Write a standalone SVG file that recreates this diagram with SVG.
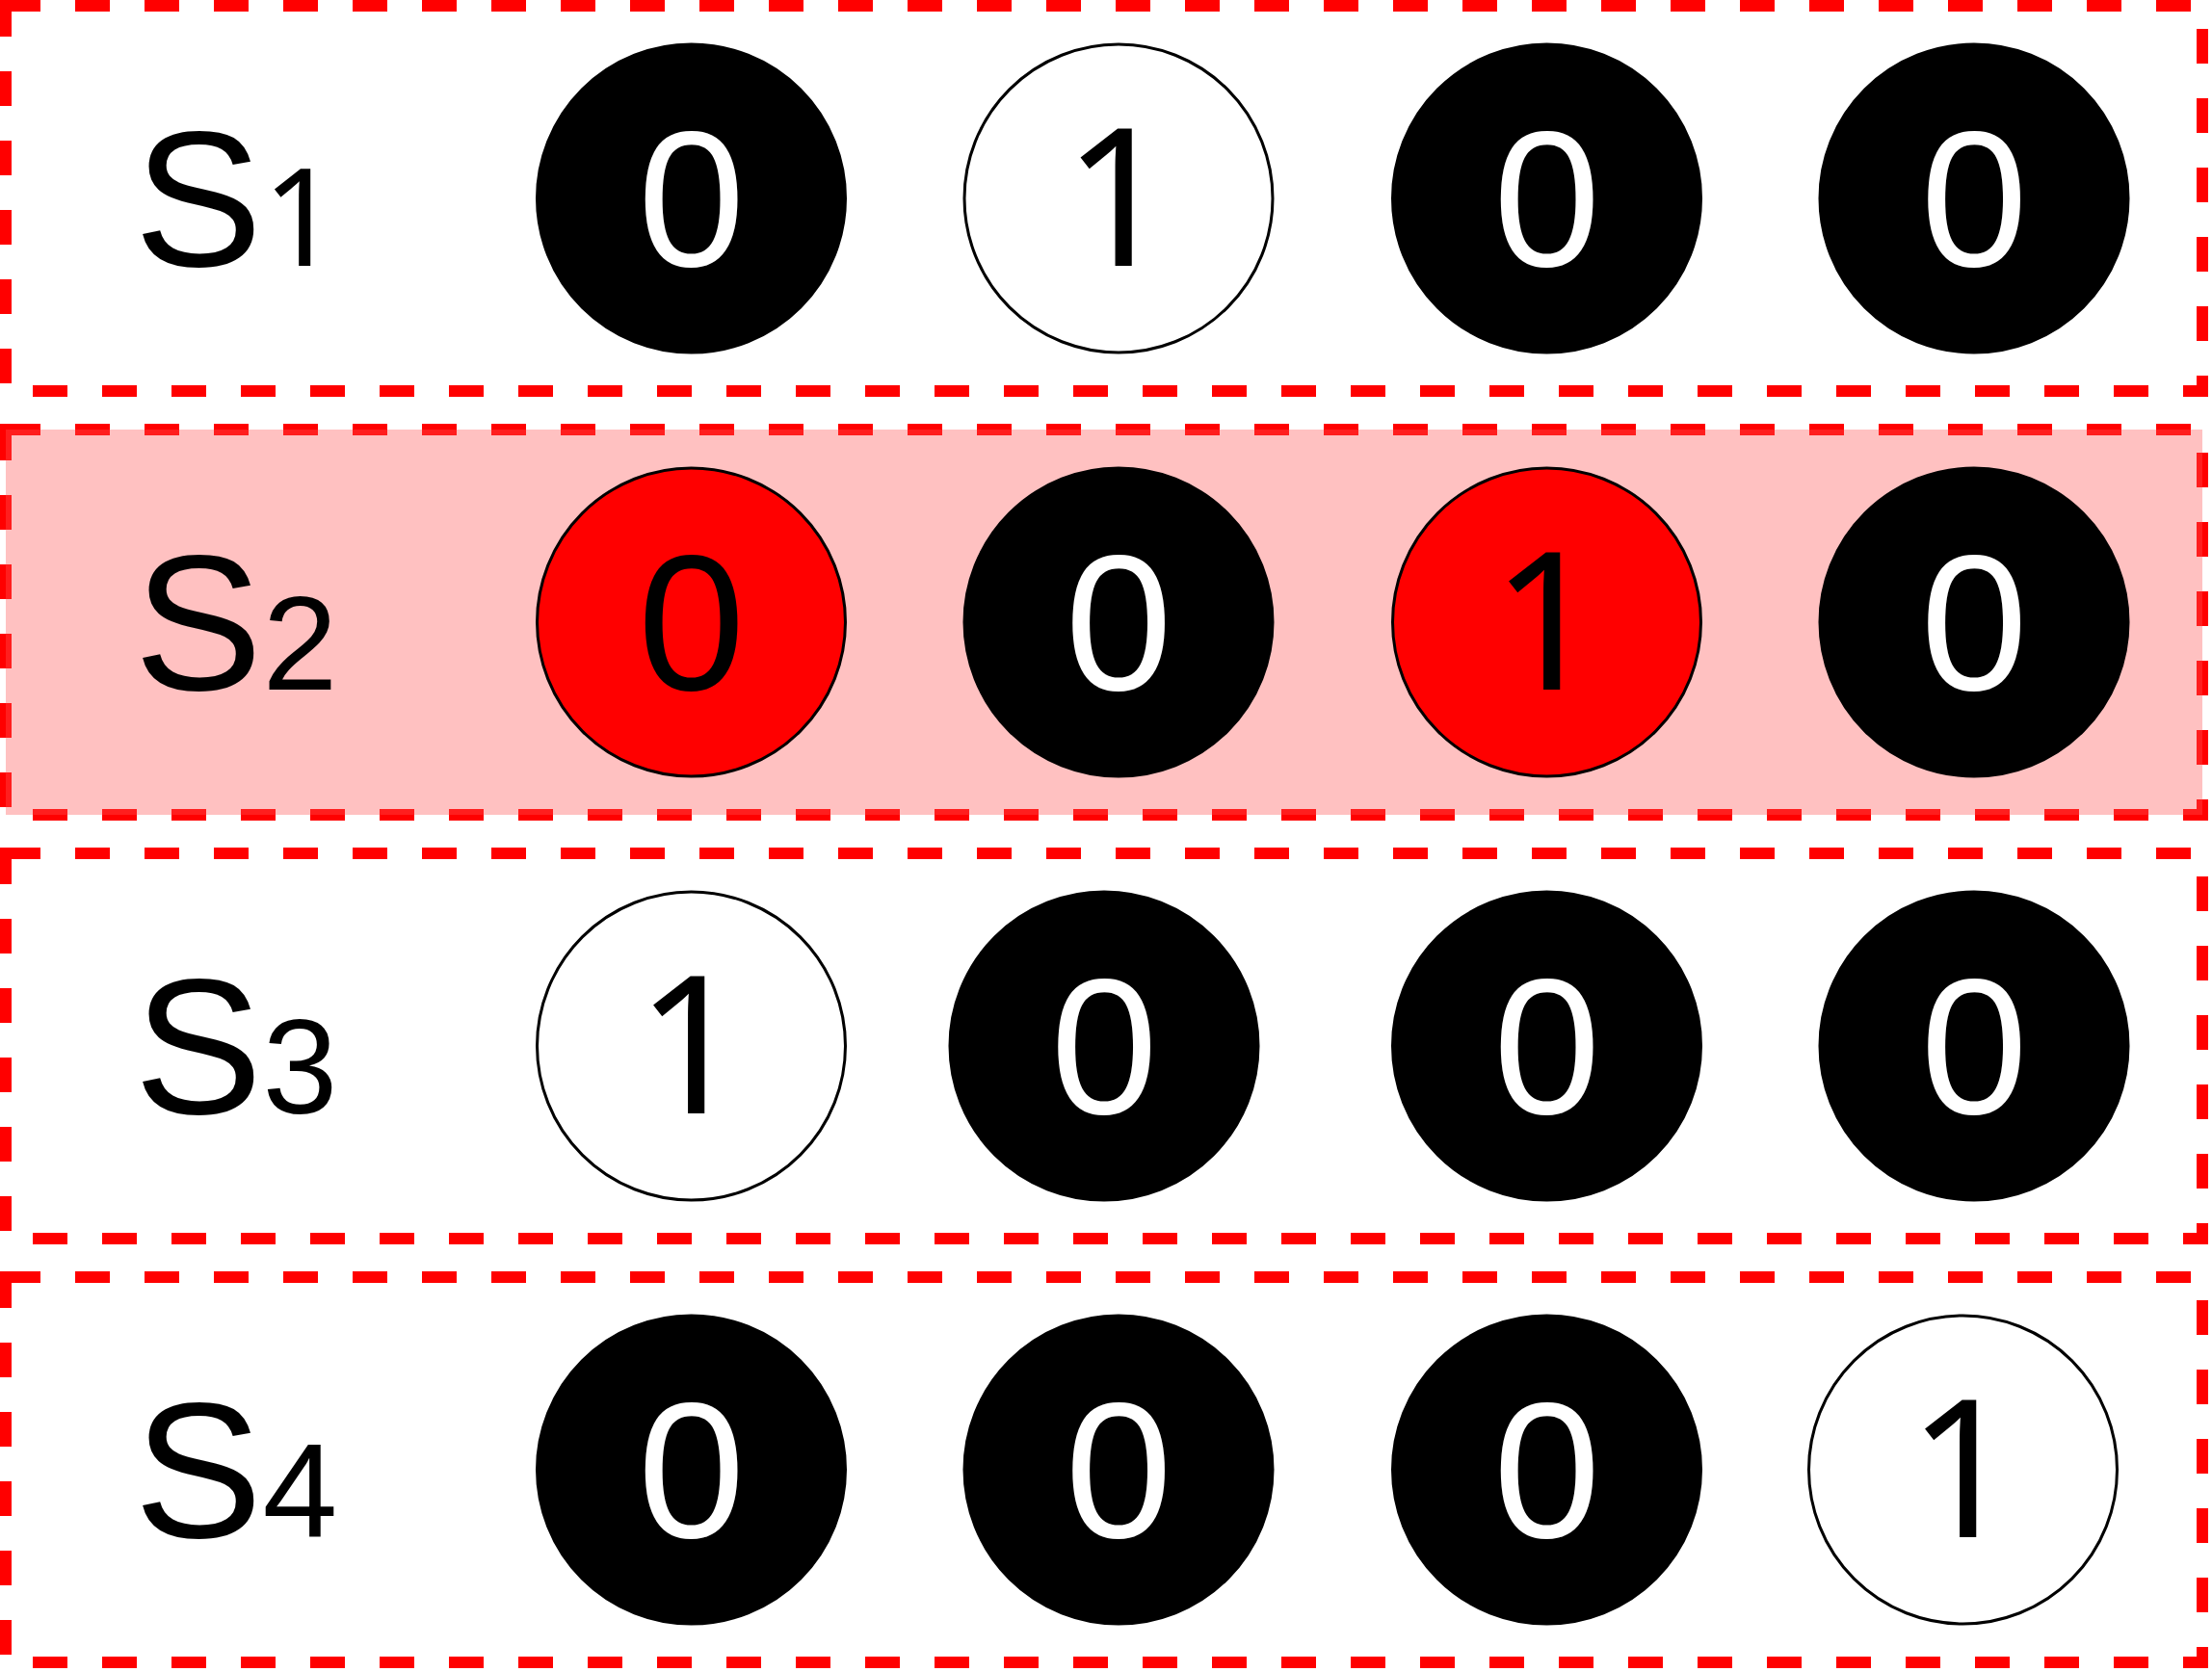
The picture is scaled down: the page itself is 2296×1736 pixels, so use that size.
<svg xmlns="http://www.w3.org/2000/svg" width="2296" height="1736" viewBox="0 0 2296 1736">
<style>
.box{fill:none;stroke:#FF0000;stroke-width:12;stroke-dasharray:36 36;}
.hl{fill:#FF5454;fill-opacity:0.36;stroke:none;}
.blk{fill:#000000;stroke:#000000;stroke-width:3;}
.wht{fill:#FFFFFF;stroke:#000000;stroke-width:3;}
.red{fill:#FF0000;stroke:#000000;stroke-width:3;}
.d{font-family:"Liberation Sans",Arial,sans-serif;font-size:200px;text-anchor:middle;}
.one{font-family:"Noto Sans","Liberation Sans",Arial,sans-serif;}
.dw{fill:#FFFFFF;}
.db{fill:#000000;}
.lbl{font-family:"Liberation Sans",Arial,sans-serif;font-size:200px;fill:#000000;}
.sub{font-size:140px;}
</style>
<rect width="2296" height="1736" fill="#FFFFFF"/>
<g id="row1">
<rect class="box" x="6" y="6" width="2280" height="400"/>
<text class="lbl" x="139" y="276">S<tspan class="sub one">1</tspan></text>
<g id="r1c1"><circle class="blk" cx="717.5" cy="206" r="160"/><text class="d dw" x="717.5" y="276">0</text></g>
<g id="r1c2"><circle class="wht" cx="1161" cy="206" r="160"/><text class="d one db" x="1161" y="276">1</text></g>
<g id="r1c3"><circle class="blk" cx="1605.5" cy="206" r="160"/><text class="d dw" x="1605.5" y="276">0</text></g>
<g id="r1c4"><circle class="blk" cx="2049" cy="206" r="160"/><text class="d dw" x="2049" y="276">0</text></g>
</g>
<g id="row2">
<rect class="box" x="6" y="446" width="2280" height="400"/>
<rect class="hl" x="6" y="446" width="2280" height="400"/>
<text class="lbl" x="139" y="716">S<tspan class="sub">2</tspan></text>
<g id="r2c1"><circle class="red" cx="717.5" cy="646" r="160"/><text class="d db" x="717.5" y="716">0</text></g>
<g id="r2c2"><circle class="blk" cx="1161" cy="646" r="160"/><text class="d dw" x="1161" y="716">0</text></g>
<g id="r2c3"><circle class="red" cx="1605.5" cy="646" r="160"/><text class="d one db" x="1605.5" y="716">1</text></g>
<g id="r2c4"><circle class="blk" cx="2049" cy="646" r="160"/><text class="d dw" x="2049" y="716">0</text></g>
</g>
<g id="row3">
<rect class="box" x="6" y="886" width="2280" height="400"/>
<text class="lbl" x="139" y="1156">S<tspan class="sub">3</tspan></text>
<g id="r3c1"><circle class="wht" cx="717.5" cy="1086" r="160"/><text class="d one db" x="717.5" y="1156">1</text></g>
<g id="r3c2"><circle class="blk" cx="1146" cy="1086" r="160"/><text class="d dw" x="1146" y="1156">0</text></g>
<g id="r3c3"><circle class="blk" cx="1605.5" cy="1086" r="160"/><text class="d dw" x="1605.5" y="1156">0</text></g>
<g id="r3c4"><circle class="blk" cx="2049" cy="1086" r="160"/><text class="d dw" x="2049" y="1156">0</text></g>
</g>
<g id="row4">
<rect class="box" x="6" y="1326" width="2280" height="400"/>
<text class="lbl" x="139" y="1596">S<tspan class="sub">4</tspan></text>
<g id="r4c1"><circle class="blk" cx="717.5" cy="1526" r="160"/><text class="d dw" x="717.5" y="1596">0</text></g>
<g id="r4c2"><circle class="blk" cx="1161" cy="1526" r="160"/><text class="d dw" x="1161" y="1596">0</text></g>
<g id="r4c3"><circle class="blk" cx="1605.5" cy="1526" r="160"/><text class="d dw" x="1605.5" y="1596">0</text></g>
<g id="r4c4"><circle class="wht" cx="2037.5" cy="1526" r="160"/><text class="d one db" x="2037.5" y="1596">1</text></g>
</g>
<g id="connectors"></g>
</svg>
